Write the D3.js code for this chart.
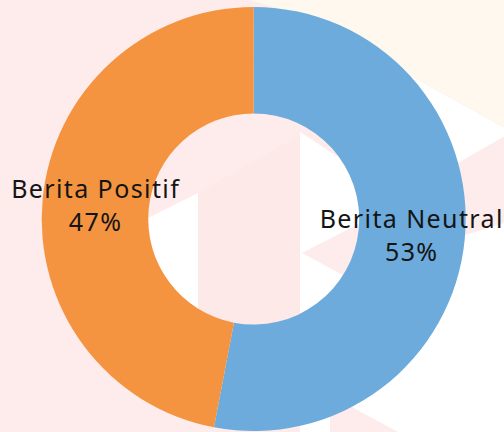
<!DOCTYPE html>
<html>
<head>
    <meta charset="utf-8">
    <script src="https://d3js.org/d3.v7.min.js"></script>
    <style>
        html, body {
            margin: 0;
            padding: 0;
            overflow: hidden;
            background: #fff;
        }

        .labels text {
            font-family: "Noto Sans", sans-serif;
            font-size: 25px;
            letter-spacing: 1.4px;
            fill: #141414;
        }
    </style>
</head>
<body>

<svg id="chart" width="504" height="432"></svg>

<script>
// data
var categories = ["Berita Neutral", "Berita Positif"];
var values = [53, 47];
var colors = ["#6cabdb", "#f49441"];

var svg = d3.select("#chart"),
    width = +svg.attr("width"),
    height = +svg.attr("height");

var cx = 253.7, cy = 219,
    outerR = 212, innerR = 105.5;

// faint triangle background pattern
var bg = svg.append("g").attr("class", "bg");

bg.append("rect")
    .attr("width", width)
    .attr("height", height)
    .attr("fill", "#fdeceb");

var bgShapes = [
    {fill: "#fef8ef", pts: [[250, 0], [504, 0], [504, 127], [300, 15]]},
    {fill: "#ffffff", pts: [[300, 15], [512, 132], [302, 253], [300, 253]]},
    {fill: "#ffffff", pts: [[302, 253], [504, 223], [504, 432], [300, 432]]},
    {fill: "#fdeceb", pts: [[302, 253], [504, 137], [504, 223], [380, 262], [345, 277]]},
    {fill: "#fdeceb", pts: [[330, 395], [398, 432], [330, 432]]}
];

bg.selectAll("polygon.outer")
    .data(bgShapes)
    .enter().append("polygon")
    .attr("points", function(d) { return d.pts.join(" "); })
    .attr("fill", function(d) { return d.fill; });

// shapes seen through the hole of the donut
svg.append("clipPath")
    .attr("id", "hole")
    .append("circle")
    .attr("cx", cx)
    .attr("cy", cy)
    .attr("r", innerR);

var holeShapes = [
    {fill: "#fdeceb", pts: [[140, 100], [370, 100], [370, 340], [140, 340]]},
    {fill: "#ffffff", pts: [[140, 222], [198, 193], [198, 340], [140, 340]]},
    {fill: "#fce9e8", pts: [[198, 193], [300, 135], [300, 340], [198, 340]]},
    {fill: "#ffffff", pts: [[300, 132], [370, 178], [370, 340], [300, 340]]},
    {fill: "#fdeceb", pts: [[302, 253], [370, 218], [370, 290]]}
];

bg.append("g")
    .attr("clip-path", "url(#hole)")
    .selectAll("polygon")
    .data(holeShapes)
    .enter().append("polygon")
    .attr("points", function(d) { return d.pts.join(" "); })
    .attr("fill", function(d) { return d.fill; });

// donut
var pie = d3.pie()
    .sort(null)
    .value(function(d) { return d; });

var arc = d3.arc()
    .innerRadius(innerR)
    .outerRadius(outerR);

var labelArc = d3.arc()
    .innerRadius((innerR + outerR) / 2)
    .outerRadius((innerR + outerR) / 2);

var arcs = pie(values);

var g = svg.append("g")
    .attr("transform", "translate(" + cx + "," + cy + ")");

g.append("g")
    .attr("class", "slices")
    .selectAll("path")
    .data(arcs)
    .enter().append("path")
    .attr("d", arc)
    .attr("fill", function(d, i) { return colors[i]; });

var label = g.append("g")
    .attr("class", "labels")
    .selectAll("text")
    .data(arcs)
    .enter().append("text")
    .attr("text-anchor", "middle")
    .attr("transform", function(d) { return "translate(" + labelArc.centroid(d) + ")"; });

label.append("tspan")
    .attr("x", 0)
    .attr("y", -6)
    .text(function(d, i) { return categories[i]; });

label.append("tspan")
    .attr("x", 0)
    .attr("y", 27)
    .text(function(d) { return d.value + "%"; });
</script>
</body>
</html>
